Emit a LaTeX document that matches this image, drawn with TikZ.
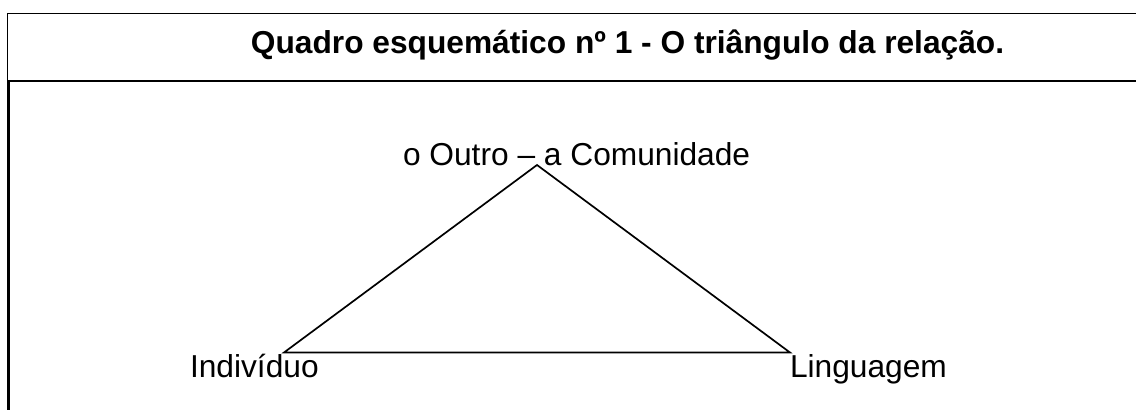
\documentclass[tikz,border=0pt]{standalone}
\usepackage{fontspec}
\setmainfont{Liberation Sans}
\begin{document}
\begin{tikzpicture}[x=1pt,y=-1pt,
  lbl/.style={inner sep=0pt, outer sep=0pt, anchor=base west, font=\fontsize{31.7}{38}\selectfont},
  ttl/.style={inner sep=0pt, outer sep=0pt, anchor=base, font=\fontsize{31.7}{38}\selectfont\bfseries},
  edge/.style={line width=1.7pt},
  frame/.style={line width=1.3pt}]
\useasboundingbox (0,0) rectangle (1136,410);
% frame
\coordinate (tl) at (7.5,13.5);
\coordinate (tr) at (1136,13.5);
\coordinate (ml) at (7.5,81);
\coordinate (mr) at (1136,81);
\coordinate (bl) at (8.5,410);
\draw[frame] (tr) -- (tl) -- (ml);
\draw[line width=2.2pt] (ml) -- (mr);
\draw[line width=3pt] (8.5,80) -- (bl);
% title
\node[ttl] (title) at (627.5,53) {Quadro esquemático nº 1 - O triângulo da relação.};
% labels
\node[lbl] (outro) at (403,165) {o Outro – a Comunidade};
\node[lbl] (ind) at (190,377) {Indivíduo};
\node[lbl] (ling) at (790,377) {Linguagem};
% triangle
\coordinate (apex) at (537,165);
\coordinate (left) at (284,352.5);
\coordinate (right) at (790,352.5);
\draw[edge, line join=miter] (apex) -- (left) -- (right) -- cycle;
\end{tikzpicture}
\end{document}
